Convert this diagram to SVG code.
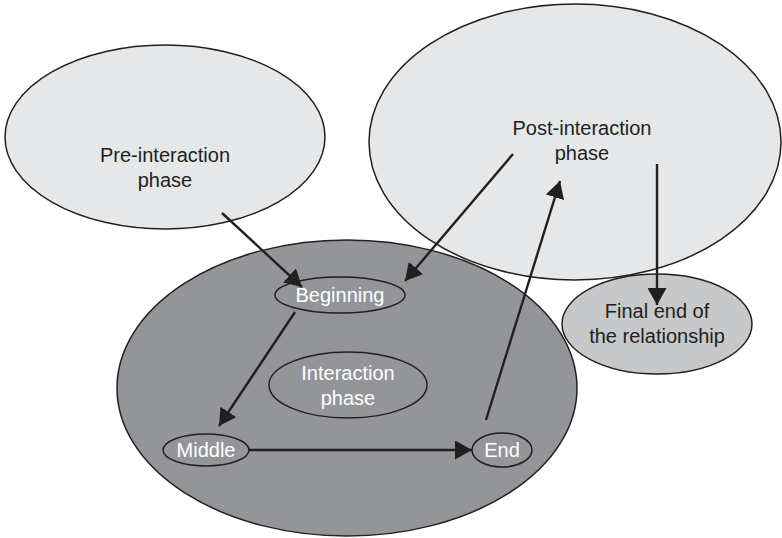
<svg xmlns="http://www.w3.org/2000/svg" width="782" height="538" viewBox="0 0 782 538">
<defs>
<style>
.big{stroke:#231f20;stroke-width:1.5}
.light{fill:#e6e7e8}
.dark{fill:#939598}
.final{fill:#c7c8ca}
.small{fill:none;stroke:#231f20;stroke-width:1.5}
text{font-family:"Liberation Sans",Arial,sans-serif;font-size:20px;text-anchor:middle}
.tl{fill:#231f20}
.tw{fill:#ffffff}
.conn{stroke:#231f20;stroke-width:2.4;fill:none;marker-end:url(#ah)}
</style>
<marker id="ah" viewBox="0 0 17 19" refX="17" refY="9.5" markerWidth="17" markerHeight="19" markerUnits="userSpaceOnUse" orient="auto">
<path d="M0,0 L17,9.5 L0,19 z" fill="#231f20"/>
</marker>
</defs>
<rect width="782" height="538" fill="#ffffff"/>
<g id="pre">
<ellipse class="big light" cx="165" cy="137" rx="160" ry="92"/>
<text class="tl" x="165" y="162">Pre-interaction</text>
<text class="tl" x="165" y="187">phase</text>
</g>
<g id="post">
<ellipse class="big light" cx="575" cy="142" rx="206" ry="138"/>
<text class="tl" x="582" y="135">Post-interaction</text>
<text class="tl" x="582" y="160">phase</text>
</g>
<g id="interaction">
<ellipse class="big dark" cx="347" cy="388" rx="230" ry="148"/>
</g>
<g id="final">
<ellipse class="big final" cx="657" cy="324" rx="95" ry="50"/>
<text class="tl" x="657" y="318">Final end of</text>
<text class="tl" x="657" y="343">the relationship</text>
</g>
<g id="beginning">
<ellipse class="small" cx="340" cy="295" rx="65" ry="18"/>
<text class="tw" x="340" y="302">Beginning</text>
</g>
<g id="interaction-phase">
<ellipse class="small" cx="348" cy="385" rx="79" ry="33"/>
<text class="tw" x="348" y="380">Interaction</text>
<text class="tw" x="348" y="405">phase</text>
</g>
<g id="middle">
<ellipse class="small" cx="206" cy="450" rx="43" ry="16"/>
<text class="tw" x="206" y="457">Middle</text>
</g>
<g id="end">
<ellipse class="small" cx="502" cy="450" rx="30" ry="17"/>
<text class="tw" x="502" y="457">End</text>
</g>
<g id="connectors">
<line class="conn" x1="222" y1="213" x2="302" y2="287"/>
<line class="conn" x1="513" y1="154" x2="405" y2="281"/>
<line class="conn" x1="486" y1="420" x2="560" y2="181"/>
<line class="conn" x1="657" y1="164" x2="657" y2="305"/>
<line class="conn" x1="295" y1="312" x2="219" y2="426"/>
<line class="conn" x1="249" y1="450" x2="472" y2="450"/>
</g>
</svg>
